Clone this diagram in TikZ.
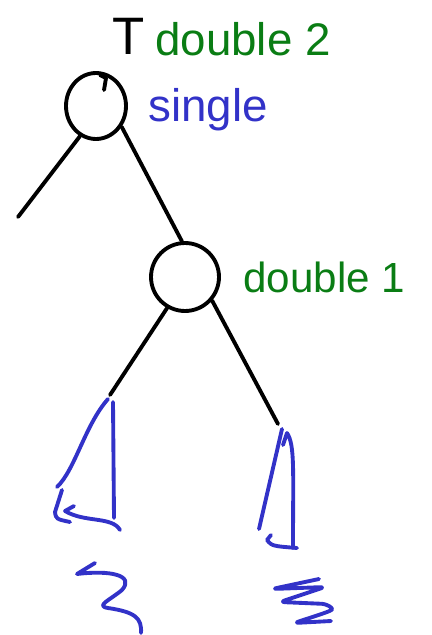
\documentclass[tikz,border=0pt]{standalone}
\usepackage{fontspec}
\setmainfont{Liberation Sans}
\usetikzlibrary{shapes.geometric}
\definecolor{penGreen}{RGB}{10,125,20}
\definecolor{penBlue}{RGB}{50,50,200}

\begin{document}
\begin{tikzpicture}[
    x=0.02cm, y=-0.02cm,
    pen/.style={line width=2.2pt, line cap=round, line join=round},
    treenode/.style={draw, pen, inner sep=0pt},
    edge/.style={pen, black},
    subtree/.style={pen, penBlue},
    note/.style={font=\fontsize{26}{30}\selectfont, inner sep=0pt}
]
\useasboundingbox (0,0) rectangle (432,635);
\node[treenode, ellipse, minimum width=1.2cm, minimum height=1.32cm] (root) at (96,106) {};
\node[treenode, circle, minimum size=1.36cm] (mid) at (185,277) {};
\node[note, font=\fontsize{30}{34}\selectfont] (T) at (129,36) {T};
\node[note, penGreen, anchor=base west] (dbltwo) at (155,56) {double 2};
\node[note, penBlue, anchor=base west] (single) at (148,121) {single};
\node[note, penGreen, anchor=base west, font=\fontsize{24}{28}\selectfont] (dblone) at (243,292) {double 1};
\coordinate (lend) at (18,217);
\coordinate (ltop) at (110,395);
\coordinate (rtop) at (278,424);
\draw[edge] (100,75) -- (106,78) -- (104,90);
\draw[edge] (root.-118) -- (lend);
\draw[edge] (root.-39) -- (mid.95);
\draw[edge] (mid.-120) -- (ltop);
\draw[edge] (mid.-41) -- (rtop);
\draw[subtree] (108,399) .. controls (85,425) and (75,470) .. (57,487);
\draw[subtree] (62,490) -- (55,512) .. controls (56,519) .. (70,522);
\draw[subtree] (74,506) -- (65,511) .. controls (85,523) and (112,516) .. (120,530);
\draw[subtree] (113,402) -- (114,518);
\draw[subtree] (282,429) -- (259,529);
\draw[subtree] (283,445) -- (287,433) .. controls (295,445) and (293,470) .. (293,548);
\draw[subtree] (271,535) -- (267,540) .. controls (272,546) .. (297,548);
\draw[subtree] (95,563) -- (77,574) .. controls (110,570) and (135,575) .. (122,590)
    .. controls (110,600) and (95,606) .. (108,608) .. controls (135,612) and (142,618) .. (141,633);
\draw[subtree, rounded corners=3pt] (319,579) -- (272,589) -- (325,587) -- (280,602)
    -- (327,604) .. controls (334,610) .. (294,623) -- (331,621);
\end{tikzpicture}
\end{document}
